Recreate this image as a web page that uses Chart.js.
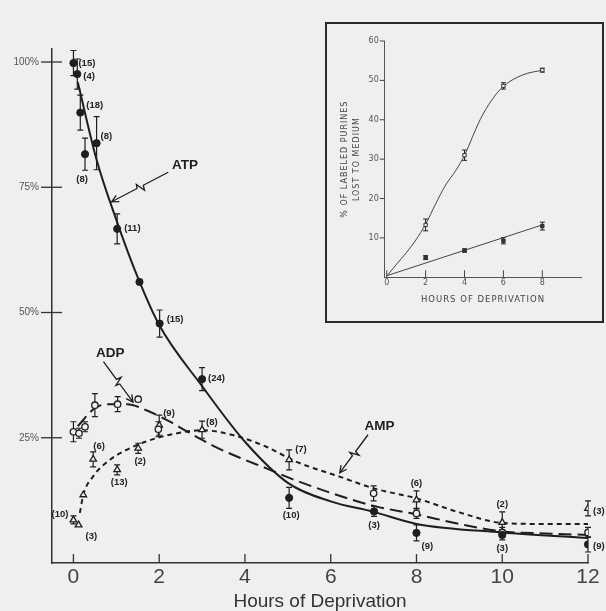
<!DOCTYPE html>
<html><head><meta charset="utf-8">
<script src="https://cdn.jsdelivr.net/npm/chart.js@4.4.0/dist/chart.umd.min.js"></script>
<style>
html,body{margin:0;padding:0;background:#efefef;}
#wrap{position:relative;width:606px;height:611px;overflow:hidden;}
#main{position:absolute;left:0;top:0;}
#insetBox{position:absolute;left:325px;top:22px;width:279px;height:301px;box-sizing:border-box;border:2px solid #2a2a2a;background:#efefef;}
#inset{position:absolute;left:0;top:0;}
</style></head><body>
<div id="wrap">
<canvas id="main" width="606" height="611"></canvas>
<div id="insetBox"><canvas id="inset" width="275" height="297"></canvas></div>
</div>
<script>
// ---------------- main chart data ----------------
const xTicks = [0, 2, 4, 6, 8, 10, 12];
const yTicks = [25, 50, 75, 100];

// ATP (filled circles)
const atpHours  = [0, 0.09, 0.16, 0.27, 0.54, 1.02, 1.54, 2.01, 3.0, 5.03, 7.01, 8.0, 10.0, 12.0];
const atpValues = [99.8, 97.6, 89.9, 81.6, 83.8, 66.7, 56.1, 47.8, 36.7, 13.0, 10.3, 6.0, 5.6, 3.7];
const atpErrors = [2.5, 3.0, 3.5, 3.2, 5.3, 3.0, 0, 2.7, 2.3, 2.1, 1.0, 1.6, 1.0, 1.5];
const atpN      = ['(15)', '(4)', '(18)', '(8)', '(8)', '(11)', '', '(15)', '(24)', '(10)', '(3)', '(9)', '(3)', '(9)'];

// ADP (open circles)
const adpHours  = [0, 0.13, 0.27, 0.5, 1.03, 1.51, 1.98, 7.0, 8.0, 10.0, 12.0];
const adpValues = [26.2, 25.9, 27.2, 31.5, 31.7, 32.7, 26.7, 13.9, 9.9, 6.1, 6.1];
const adpErrors = [2.0, 1.0, 1.0, 2.3, 1.5, 0, 1.5, 1.5, 1.0, 1.0, 1.0];

// AMP (open triangles)
const ampHours  = [0, 0.12, 0.23, 0.46, 1.02, 1.51, 2.0, 3.0, 5.03, 8.0, 10.0, 12.0];
const ampValues = [8.6, 7.6, 13.6, 20.7, 18.6, 22.9, 27.5, 26.6, 20.6, 12.6, 8.1, 10.9];
const ampErrors = [0.8, 0, 0, 1.5, 1.0, 1.0, 2.0, 1.7, 2.0, 1.8, 2.1, 1.5];
const ampN      = ['(10)', '(3)', '', '(6)', '(13)', '(2)', '(9)', '(8)', '(7)', '(6)', '(2)', '(3)'];

// fitted curves
const atpCurveHours  = [0.1, 0.54, 1.0, 1.5, 2.0, 3.0, 4.0, 5.0, 6.0, 7.0, 8.0, 10.0, 12.0];
const atpCurveValues = [96.0, 80.5, 68.5, 57.0, 47.5, 35.3, 24.2, 16.0, 12.3, 10.2, 7.8, 6.1, 5.0];
const adpCurveHours  = [0.1, 0.5, 0.8, 1.25, 1.7, 2.25, 2.7, 3.26, 3.88, 4.5, 5.12, 6.0, 7.0, 8.0, 9.0, 10.0, 11.0, 12.0];
const adpCurveValues = [27.3, 30.9, 31.7, 31.7, 30.5, 28.2, 26.0, 23.4, 21.0, 18.9, 16.7, 14.0, 11.4, 9.7, 7.8, 6.3, 5.9, 5.6];
const ampCurveHours  = [0.15, 0.23, 0.46, 0.85, 1.24, 1.71, 2.25, 3.0, 3.73, 4.5, 5.2, 6.22, 7.0, 8.0, 9.0, 10.0, 11.0, 12.0];
const ampCurveValues = [10.0, 13.6, 17.3, 20.6, 22.6, 24.3, 25.6, 26.5, 25.5, 23.2, 20.2, 17.2, 14.9, 12.9, 10.1, 8.0, 7.8, 7.8];

// ---------------- inset data ----------------
const insetXTicks = [0, 2, 4, 6, 8];
const insetYTicks = [10, 20, 30, 40, 50, 60];
const insetHours  = [2, 4, 6, 8];
const upperValues = [13.3, 31.0, 48.6, 52.6];
const upperErrors = [1.5, 1.3, 0.8, 0.5];
const lowerValues = [5.0, 6.8, 9.3, 13.0];
const lowerErrors = [0.5, 0.4, 0.8, 1.0];
const upperCurveHours  = [0, 0.5, 1.0, 1.5, 2.0, 2.5, 3.0, 3.6, 4.0, 4.8, 5.4, 6.0, 7.0, 8.0];
const upperCurveValues = [0.3, 3.3, 6.2, 9.5, 13.5, 18.5, 23.2, 27.5, 31.0, 40.0, 45.0, 48.5, 51.4, 52.6];
const lowerLineHours  = [0, 8];
const lowerLineValues = [0.4, 13.3];

// ---------------- layout / style (not data) ----------------
const INK = '#1e1e1e';
const BG = '#efefef';
const FONT = 'Liberation Sans, Arial, sans-serif';
// label placement: [dx, dy, align]
const atpLabelPos = [[5,0,'left'],[6,2,'left'],[6,-7,'left'],[-3,25,'center'],[4,-7,'left'],[7,0,'left'],[0,0,'left'],
  [7,-4,'left'],[6,-1,'left'],[2,18,'center'],[0,14,'center'],[5,13,'left'],[0,13,'center'],[5,2,'left']];
const ampLabelPos = [[-5,-6,'right'],[7,11,'left'],[0,0,'left'],[6,-13,'center'],[2,13,'center'],[2,13,'center'],
  [4,-12,'left'],[4,-7,'left'],[6,-10,'left'],[0,-17,'center'],[0,-18,'center'],[5,3,'left']];
const callouts = [
  {text: 'ATP', at: [2.6, 79.3], from: [2.21, 78.0], to: [0.89, 72.1]},
  {text: 'ADP', at: [0.86, 41.9], from: [0.70, 40.2], to: [1.39, 32.1]},
  {text: 'AMP', at: [7.14, 27.3], from: [6.87, 25.6], to: [6.21, 18.0]}
];

function pts(xs, ys) { return xs.map((x, i) => ({x: x, y: ys[i]})); }

const errorBarPlugin = {
  id: 'errorBars',
  beforeDatasetsDraw(chart) {
    const ctx = chart.ctx, xs = chart.scales.x, ys = chart.scales.y;
    chart.data.datasets.forEach(ds => {
      if (!ds.errors) return;
      ctx.save();
      ctx.strokeStyle = INK;
      ctx.lineWidth = ds.errWidth || 1.2;
      const cap = ds.capHalf || 3;
      ds.data.forEach((p, j) => {
        const e = ds.errors[j];
        if (!e) return;
        const x = xs.getPixelForValue(p.x);
        const y1 = ys.getPixelForValue(p.y + e), y2 = ys.getPixelForValue(p.y - e);
        ctx.beginPath();
        ctx.moveTo(x, y1); ctx.lineTo(x, y2);
        ctx.moveTo(x - cap, y1); ctx.lineTo(x + cap, y1);
        ctx.moveTo(x - cap, y2); ctx.lineTo(x + cap, y2);
        ctx.stroke();
      });
      ctx.restore();
    });
  }
};

const pointLabelPlugin = {
  id: 'pointLabels',
  afterDatasetsDraw(chart) {
    const ctx = chart.ctx, xs = chart.scales.x, ys = chart.scales.y;
    chart.data.datasets.forEach(ds => {
      if (!ds.nLabels) return;
      ctx.save();
      ctx.fillStyle = '#222';
      ctx.font = 'bold 9.5px ' + FONT;
      ctx.textBaseline = 'middle';
      ds.data.forEach((p, j) => {
        const t = ds.nLabels[j];
        if (!t) return;
        const pos = ds.nLabelPos[j];
        ctx.textAlign = pos[2];
        ctx.fillText(t, xs.getPixelForValue(p.x) + pos[0], ys.getPixelForValue(p.y) + pos[1]);
      });
      ctx.restore();
    });
  }
};

function zigArrow(ctx, x1, y1, x2, y2) {
  const dx = x2 - x1, dy = y2 - y1, L = Math.hypot(dx, dy);
  const ux = dx / L, uy = dy / L, nx = -uy, ny = ux;
  const p = (t, o) => [x1 + ux * t * L + nx * o, y1 + uy * t * L + ny * o];
  ctx.beginPath();
  ctx.moveTo(x1, y1);
  ctx.lineTo(...p(0.44, 0));
  ctx.lineTo(...p(0.46, -5));
  ctx.lineTo(...p(0.53, 4));
  ctx.lineTo(...p(0.55, 0));
  ctx.lineTo(x2, y2);
  ctx.stroke();
  const hb = 7, hw = 3.5;
  ctx.beginPath();
  ctx.moveTo(x2 - ux * hb + nx * hw, y2 - uy * hb + ny * hw);
  ctx.lineTo(x2, y2);
  ctx.lineTo(x2 - ux * hb - nx * hw, y2 - uy * hb - ny * hw);
  ctx.stroke();
}

const mainDecor = {
  id: 'mainDecor',
  afterDraw(chart) {
    const ctx = chart.ctx, xs = chart.scales.x, ys = chart.scales.y, a = chart.chartArea;
    ctx.save();
    ctx.strokeStyle = '#333';
    ctx.lineWidth = 1.3;
    yTicks.forEach(v => {
      const y = ys.getPixelForValue(v);
      ctx.beginPath(); ctx.moveTo(a.left - 11, y); ctx.lineTo(a.left + 10, y); ctx.stroke();
    });
    xTicks.forEach(v => {
      const x = xs.getPixelForValue(v);
      ctx.beginPath(); ctx.moveTo(x, a.bottom); ctx.lineTo(x, a.bottom - 9); ctx.stroke();
    });
    ctx.strokeStyle = INK;
    ctx.fillStyle = INK;
    ctx.lineWidth = 1.3;
    ctx.font = 'bold 13.5px ' + FONT;
    ctx.textAlign = 'center';
    ctx.textBaseline = 'middle';
    callouts.forEach(c => {
      ctx.fillText(c.text, xs.getPixelForValue(c.at[0]), ys.getPixelForValue(c.at[1]));
      zigArrow(ctx, xs.getPixelForValue(c.from[0]), ys.getPixelForValue(c.from[1]),
                    xs.getPixelForValue(c.to[0]), ys.getPixelForValue(c.to[1]));
    });
    ctx.restore();
  }
};

new Chart(document.getElementById('main'), {
  type: 'line',
  data: {
    datasets: [
      {label: 'ATP points', data: pts(atpHours, atpValues), showLine: false, order: 0,
       pointStyle: 'circle', pointRadius: 3.6, pointBackgroundColor: INK, pointBorderColor: INK, pointBorderWidth: 1,
       errors: atpErrors, nLabels: atpN, nLabelPos: atpLabelPos},
      {label: 'ADP points', data: pts(adpHours, adpValues), showLine: false, order: 0,
       pointStyle: 'circle', pointRadius: 3.2, pointBackgroundColor: BG, pointBorderColor: INK, pointBorderWidth: 1.3,
       errors: adpErrors},
      {label: 'AMP points', data: pts(ampHours, ampValues), showLine: false, order: 0,
       pointStyle: 'triangle', pointRadius: 3.8, pointBackgroundColor: BG, pointBorderColor: INK, pointBorderWidth: 1.3,
       errors: ampErrors, nLabels: ampN, nLabelPos: ampLabelPos},
      {label: 'ATP', data: pts(atpCurveHours, atpCurveValues), order: 1, pointRadius: 0,
       borderColor: INK, borderWidth: 2, cubicInterpolationMode: 'monotone', fill: false},
      {label: 'ADP', data: pts(adpCurveHours, adpCurveValues), order: 1, pointRadius: 0,
       borderColor: INK, borderWidth: 2, borderDash: [13, 6], cubicInterpolationMode: 'monotone', fill: false},
      {label: 'AMP', data: pts(ampCurveHours, ampCurveValues), order: 1, pointRadius: 0,
       borderColor: INK, borderWidth: 2, borderDash: [5, 4], cubicInterpolationMode: 'monotone', fill: false}
    ]
  },
  options: {
    responsive: false, animation: false, devicePixelRatio: 1,
    layout: {padding: {top: 49, right: 18, left: 0, bottom: 0}},
    plugins: {legend: {display: false}, tooltip: {enabled: false}},
    scales: {
      x: {
        type: 'linear', min: -0.5, max: 12,
        afterFit(s) { s.height = 48; },
        grid: {display: false, drawTicks: false},
        border: {display: true, color: '#333', width: 1.5},
        ticks: {stepSize: 2, includeBounds: false, autoSkip: false, maxRotation: 0, padding: 2,
                color: '#444', font: {family: FONT, size: 21},
                callback: v => xTicks.includes(v) ? String(v) : ''},
        title: {display: true, text: 'Hours of Deprivation', color: '#333',
                font: {family: FONT, size: 19, lineHeight: 1}, padding: {top: 0, bottom: 0}}
      },
      y: {
        type: 'linear', min: 0, max: 102.6,
        afterFit(s) { s.width = 52; },
        grid: {display: false, drawTicks: false},
        border: {display: true, color: '#333', width: 1.5},
        ticks: {stepSize: 25, includeBounds: false, padding: 13, color: '#555',
                font: {family: FONT, size: 10},
                callback: v => yTicks.includes(v) ? v + '%' : ''}
      }
    }
  },
  plugins: [errorBarPlugin, pointLabelPlugin, mainDecor]
});

// ---------------- inset chart ----------------
// letter-spaced axis titles (only the titles, not the tick labels)
const insetSpacing = {
  id: 'insetSpacing',
  beforeDraw(chart) {
    Object.values(chart.scales).forEach(s => {
      if (s._spacedTitle) return;
      const orig = s.drawTitle;
      s.drawTitle = function () {
        const c = this.ctx;
        c.save();
        c.letterSpacing = '1px';
        orig.apply(this, arguments);
        c.restore();
      };
      s._spacedTitle = true;
    });
  }
};

const insetDecor = {
  id: 'insetDecor',
  afterDraw(chart) {
    const ctx = chart.ctx, xs = chart.scales.x, ys = chart.scales.y, a = chart.chartArea;
    ctx.save();
    ctx.strokeStyle = '#444';
    ctx.lineWidth = 1;
    insetYTicks.forEach(v => {
      const y = ys.getPixelForValue(v);
      ctx.beginPath(); ctx.moveTo(a.left - 5, y); ctx.lineTo(a.left, y); ctx.stroke();
    });
    insetXTicks.forEach(v => {
      const x = xs.getPixelForValue(v);
      ctx.beginPath(); ctx.moveTo(x, a.bottom); ctx.lineTo(x, a.bottom - 7); ctx.stroke();
    });
    ctx.restore();
  }
};

new Chart(document.getElementById('inset'), {
  type: 'line',
  data: {
    datasets: [
      {data: pts(insetHours, upperValues), showLine: false, order: 0,
       pointStyle: 'rect', pointRadius: 2.4, pointBackgroundColor: BG, pointBorderColor: '#333', pointBorderWidth: 1,
       errors: upperErrors, errWidth: 1, capHalf: 2.5},
      {data: pts(insetHours, lowerValues), showLine: false, order: 0,
       pointStyle: 'rect', pointRadius: 2.4, pointBackgroundColor: '#333', pointBorderColor: '#333', pointBorderWidth: 1,
       errors: lowerErrors, errWidth: 1, capHalf: 2.5},
      {data: pts(upperCurveHours, upperCurveValues), order: 1, pointRadius: 0,
       borderColor: '#444', borderWidth: 1, cubicInterpolationMode: 'monotone', fill: false},
      {data: pts(lowerLineHours, lowerLineValues), order: 1, pointRadius: 0,
       borderColor: '#444', borderWidth: 1, fill: false}
    ]
  },
  options: {
    responsive: false, animation: false, devicePixelRatio: 1,
    layout: {padding: {top: 17, right: 20.8, left: 0, bottom: 0}},
    plugins: {legend: {display: false}, tooltip: {enabled: false}},
    scales: {
      x: {
        type: 'linear', min: -0.1, max: 10,
        afterFit(s) { s.height = 43.7; },
        grid: {display: false, drawTicks: false},
        border: {display: true, color: '#555', width: 1},
        ticks: {stepSize: 2, includeBounds: false, autoSkip: false, maxRotation: 0, padding: 1,
                color: '#555', font: {family: 'DejaVu Sans', size: 8},
                callback: v => insetXTicks.includes(v) ? String(v) : ''},
        title: {display: true, text: 'HOURS OF DEPRIVATION', color: '#444',
                font: {family: 'DejaVu Sans', size: 8.5, lineHeight: 1.2}, padding: {top: 0, bottom: 16.5}}
      },
      y: {
        type: 'linear', min: 0, max: 60,
        afterFit(s) { s.width = 57.8; },
        grid: {display: false, drawTicks: false},
        border: {display: true, color: '#555', width: 1},
        ticks: {stepSize: 10, includeBounds: false, padding: 6, color: '#555',
                font: {family: 'DejaVu Sans', size: 8},
                callback: v => insetYTicks.includes(v) ? String(v) : ''},
        title: {display: true, text: ['% OF LABELED PURINES', 'LOST TO MEDIUM'], color: '#444',
                font: {family: 'DejaVu Sans', size: 8, lineHeight: 1.55}, padding: {top: 11.8, bottom: 0}}
      }
    }
  },
  plugins: [insetSpacing, errorBarPlugin, insetDecor]
});
</script>
</body></html>
